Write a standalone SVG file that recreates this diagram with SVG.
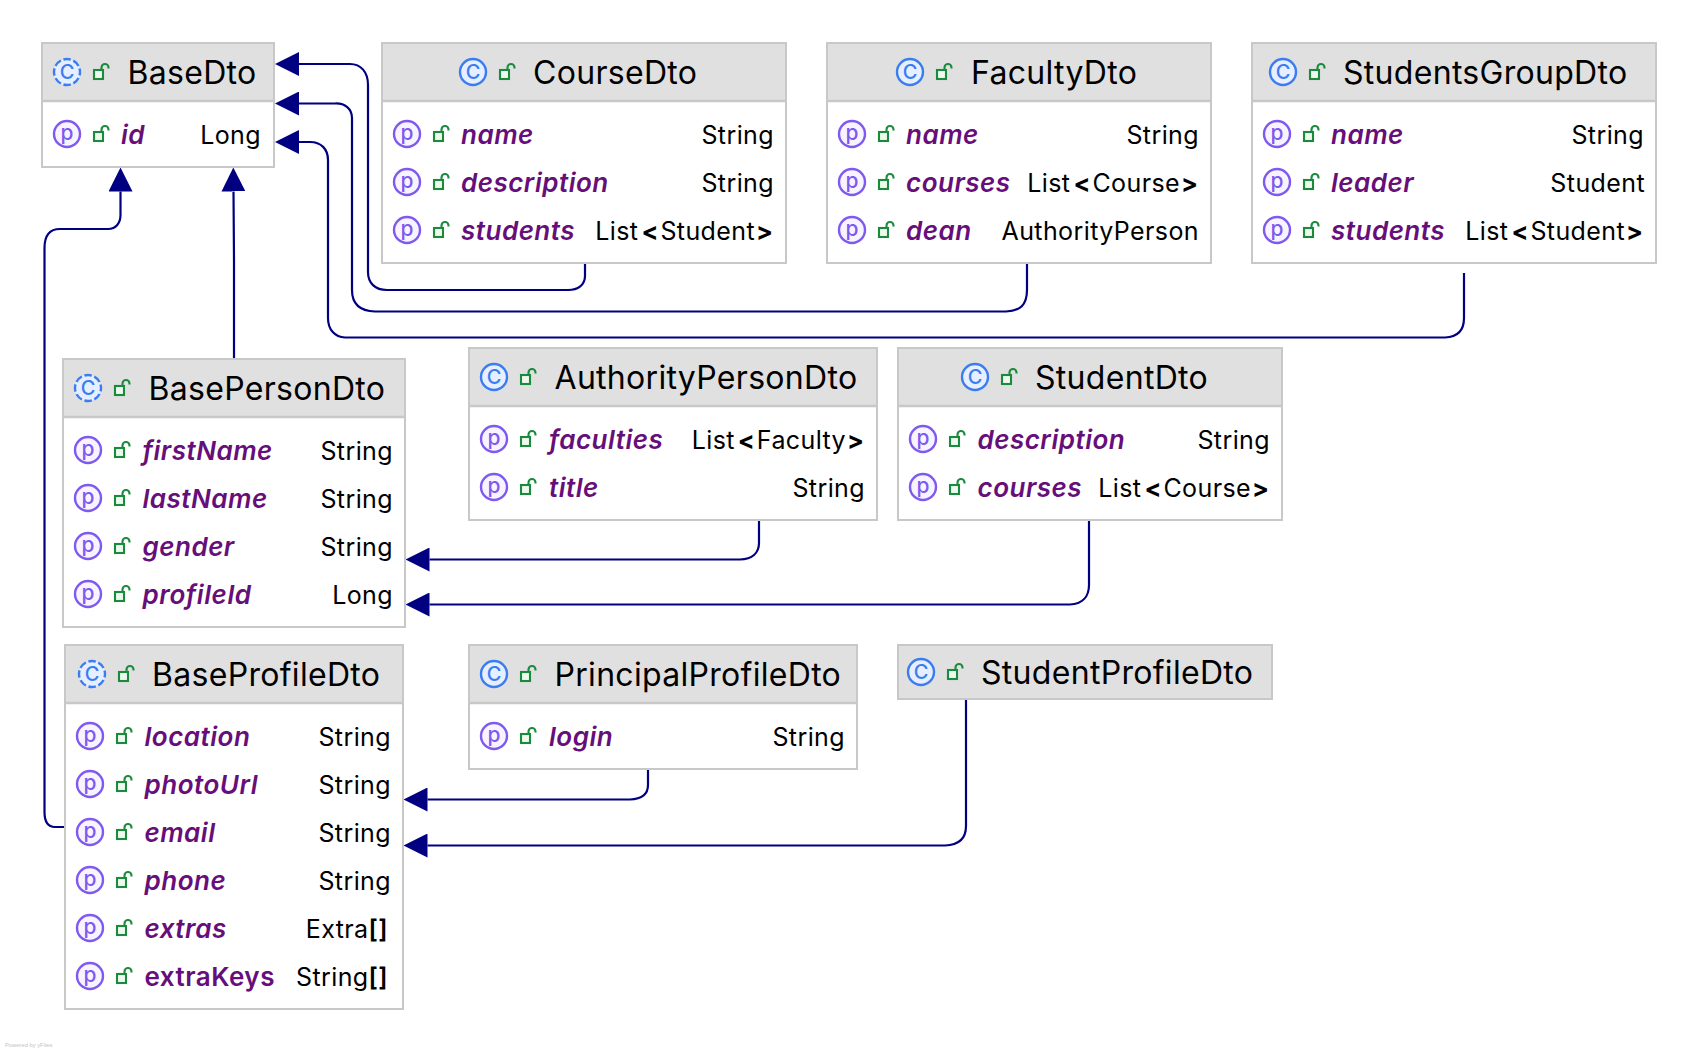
<svg xmlns="http://www.w3.org/2000/svg" width="1698" height="1052" viewBox="0 0 1698 1052">
<style>
text{font-family:Inter,"Noto Sans","Liberation Sans",sans-serif}
.box{fill:#fff;stroke:#c8c8c8;stroke-width:2}
.hdr{fill:#e0e0e0}
.sep{stroke:#c8c8c8;stroke-width:2.5;fill:none}
.title{font-size:32px;fill:#000;letter-spacing:.3px}
.name{font-size:26px;font-style:italic;font-weight:600;fill:#660e7a;letter-spacing:.5px}
.type{font-size:25px;fill:#000;text-anchor:end;letter-spacing:.4px}
.b{font-weight:700;letter-spacing:2px}
.br{font-weight:600}
.ci{font-size:20px;fill:#3b7df0;text-anchor:middle;font-weight:500}
.pi{font-size:21px;fill:#7f5af0;text-anchor:middle;font-weight:500}
.edge{fill:none;stroke:#000080;stroke-width:2.2;stroke-linejoin:round}
.foot{font-size:5.8px;fill:#c4c4c4;font-family:"Liberation Sans",sans-serif}
</style>
<defs>
<marker id="arr" markerUnits="userSpaceOnUse" viewBox="0 0 24 24" markerWidth="24" markerHeight="24" refX="0" refY="12" orient="auto"><path d="M0 0L24 12L0 24Z" fill="#000080"/></marker>
<g id="lock" fill="none" stroke="#1a8a3c" stroke-width="2.100"><rect x="-7" y="-2" width="9" height="9" fill="#eef8ee"/><path d="M0.500-2V-4.500a3.500 3.500 0 0 1 7 0V-3.500"/></g>
<circle id="cc" r="13" fill="#e6efff" stroke="#3b7df0" stroke-width="2.400"/>
<circle id="ca" r="13" fill="#e6efff" stroke="#3b7df0" stroke-width="2.400" stroke-dasharray="7.500 2.700" stroke-dashoffset="4"/>
<circle id="pc" r="13" fill="#f8f4ff" stroke="#7f5af0" stroke-width="2.400"/>
</defs>
<rect width="1698" height="1052" fill="#fff"/>
<g id="connectors">
<path class="edge" marker-end="url(#arr)" d="M585 263V276C585 285 578 290 568 290H387C375 290 368 283 368 272V85C368 72 361 64 350 64H299"/>
<path class="edge" marker-end="url(#arr)" d="M1027 263V290C1027 305 1020 311 1006 311.500H375C360 311 352 304 352 290V118C352 109 345 103 335 103.500H299"/>
<path class="edge" marker-end="url(#arr)" d="M1464 273V318C1464 331 1457 337 1445 337.500H345C335 337 328 330 328 318V160C328 149 321 142 310 142H299"/>
<path class="edge" marker-end="url(#arr)" d="M64 827H55C48 827 44.500 822 44.500 812V248C44.500 236 49 229 60 229H108C116 229 120.500 223 120.500 215V191.500"/>
<path class="edge" marker-end="url(#arr)" d="M234 359V260L233.500 191.500"/>
<path class="edge" marker-end="url(#arr)" d="M759 521V543C759 553 752 559 740 559.500H429.500"/>
<path class="edge" marker-end="url(#arr)" d="M1089 521V585C1089 597 1082 604 1070 604.500H429.500"/>
<path class="edge" marker-end="url(#arr)" d="M648 770V785C648 794 642 799 630 799.500H427.500"/>
<path class="edge" marker-end="url(#arr)" d="M966 700V826C966 838 960 845 945 845.500H427.500"/>
</g>
<g id="BaseDto">
<rect class="box" x="42" y="43" width="232" height="124"/><rect class="hdr" x="43" y="44" width="230" height="57"/><path class="sep" d="M43 101H273"/>
<use href="#ca" x="67" y="72"/><text class="ci" x="67" y="79">C</text><use href="#lock" x="101" y="72"/><text class="title" x="127.500" y="84">BaseDto</text>
<use href="#pc" x="67" y="134"/><text class="pi" x="67" y="140">p</text><use href="#lock" x="101" y="134"/><text class="name" x="121" y="144">id</text><text class="type" x="261" y="144">Long</text>
</g>
<g id="CourseDto">
<rect class="box" x="382" y="43" width="404" height="220"/><rect class="hdr" x="383" y="44" width="402" height="57"/><path class="sep" d="M383 101H785"/>
<use href="#cc" x="473" y="72"/><text class="ci" x="473" y="79">C</text><use href="#lock" x="507" y="72"/><text class="title" x="533" y="84">CourseDto</text>
<use href="#pc" x="407" y="134"/><text class="pi" x="407" y="140">p</text><use href="#lock" x="441" y="134"/><text class="name" x="461" y="144">name</text><text class="type" x="774" y="144">String</text>
<use href="#pc" x="407" y="182"/><text class="pi" x="407" y="188">p</text><use href="#lock" x="441" y="182"/><text class="name" x="461" y="192">description</text><text class="type" x="774" y="192">String</text>
<use href="#pc" x="407" y="230"/><text class="pi" x="407" y="236">p</text><use href="#lock" x="441" y="230"/><text class="name" x="461" y="240">students</text><text class="type" x="775" y="240">List<tspan class="b" dx="3">&lt;</tspan>Student<tspan class="b" dx="1">&gt;</tspan></text>
</g>
<g id="FacultyDto">
<rect class="box" x="827" y="43" width="384" height="220"/><rect class="hdr" x="828" y="44" width="382" height="57"/><path class="sep" d="M828 101H1210"/>
<use href="#cc" x="910" y="72"/><text class="ci" x="910" y="79">C</text><use href="#lock" x="944" y="72"/><text class="title" x="971" y="84">FacultyDto</text>
<use href="#pc" x="852" y="134"/><text class="pi" x="852" y="140">p</text><use href="#lock" x="886" y="134"/><text class="name" x="906" y="144">name</text><text class="type" x="1199" y="144">String</text>
<use href="#pc" x="852" y="182"/><text class="pi" x="852" y="188">p</text><use href="#lock" x="886" y="182"/><text class="name" x="906" y="192">courses</text><text class="type" x="1200" y="192">List<tspan class="b" dx="3">&lt;</tspan>Course<tspan class="b" dx="1">&gt;</tspan></text>
<use href="#pc" x="852" y="230"/><text class="pi" x="852" y="236">p</text><use href="#lock" x="886" y="230"/><text class="name" x="906" y="240">dean</text><text class="type" x="1199" y="240">AuthorityPerson</text>
</g>
<g id="StudentsGroupDto">
<rect class="box" x="1252" y="43" width="404" height="220"/><rect class="hdr" x="1253" y="44" width="402" height="57"/><path class="sep" d="M1253 101H1655"/>
<use href="#cc" x="1283" y="72"/><text class="ci" x="1283" y="79">C</text><use href="#lock" x="1317" y="72"/><text class="title" x="1343" y="84">StudentsGroupDto</text>
<use href="#pc" x="1277" y="134"/><text class="pi" x="1277" y="140">p</text><use href="#lock" x="1311" y="134"/><text class="name" x="1331" y="144">name</text><text class="type" x="1644" y="144">String</text>
<use href="#pc" x="1277" y="182"/><text class="pi" x="1277" y="188">p</text><use href="#lock" x="1311" y="182"/><text class="name" x="1331" y="192">leader</text><text class="type" x="1645" y="192">Student</text>
<use href="#pc" x="1277" y="230"/><text class="pi" x="1277" y="236">p</text><use href="#lock" x="1311" y="230"/><text class="name" x="1331" y="240">students</text><text class="type" x="1645" y="240">List<tspan class="b" dx="3">&lt;</tspan>Student<tspan class="b" dx="1">&gt;</tspan></text>
</g>
<g id="BasePersonDto">
<rect class="box" x="63" y="359" width="342" height="268"/><rect class="hdr" x="64" y="360" width="340" height="57"/><path class="sep" d="M64 417H404"/>
<use href="#ca" x="88" y="388"/><text class="ci" x="88" y="395">C</text><use href="#lock" x="122" y="388"/><text class="title" x="148.500" y="400">BasePersonDto</text>
<use href="#pc" x="88" y="450"/><text class="pi" x="88" y="456">p</text><use href="#lock" x="122" y="450"/><text class="name" x="142.500" y="460">firstName</text><text class="type" x="393" y="460">String</text>
<use href="#pc" x="88" y="498"/><text class="pi" x="88" y="504">p</text><use href="#lock" x="122" y="498"/><text class="name" x="142.500" y="508">lastName</text><text class="type" x="393" y="508">String</text>
<use href="#pc" x="88" y="546"/><text class="pi" x="88" y="552">p</text><use href="#lock" x="122" y="546"/><text class="name" x="142.500" y="556">gender</text><text class="type" x="393" y="556">String</text>
<use href="#pc" x="88" y="594"/><text class="pi" x="88" y="600">p</text><use href="#lock" x="122" y="594"/><text class="name" x="142.500" y="604">profileId</text><text class="type" x="393" y="604">Long</text>
</g>
<g id="AuthorityPersonDto">
<rect class="box" x="469" y="348" width="408" height="172"/><rect class="hdr" x="470" y="349" width="406" height="57"/><path class="sep" d="M470 406H876"/>
<use href="#cc" x="494" y="377"/><text class="ci" x="494" y="384">C</text><use href="#lock" x="528" y="377"/><text class="title" x="554.500" y="389">AuthorityPersonDto</text>
<use href="#pc" x="494" y="439"/><text class="pi" x="494" y="445">p</text><use href="#lock" x="528" y="439"/><text class="name" x="549" y="449">faculties</text><text class="type" x="866" y="449">List<tspan class="b" dx="3">&lt;</tspan>Faculty<tspan class="b" dx="1">&gt;</tspan></text>
<use href="#pc" x="494" y="487"/><text class="pi" x="494" y="493">p</text><use href="#lock" x="528" y="487"/><text class="name" x="549" y="497">title</text><text class="type" x="865" y="497">String</text>
</g>
<g id="StudentDto">
<rect class="box" x="898" y="348" width="384" height="172"/><rect class="hdr" x="899" y="349" width="382" height="57"/><path class="sep" d="M899 406H1281"/>
<use href="#cc" x="975" y="377"/><text class="ci" x="975" y="384">C</text><use href="#lock" x="1009" y="377"/><text class="title" x="1035" y="389">StudentDto</text>
<use href="#pc" x="923" y="439"/><text class="pi" x="923" y="445">p</text><use href="#lock" x="957" y="439"/><text class="name" x="977.500" y="449">description</text><text class="type" x="1270" y="449">String</text>
<use href="#pc" x="923" y="487"/><text class="pi" x="923" y="493">p</text><use href="#lock" x="957" y="487"/><text class="name" x="977.500" y="497">courses</text><text class="type" x="1271" y="497">List<tspan class="b" dx="3">&lt;</tspan>Course<tspan class="b" dx="1">&gt;</tspan></text>
</g>
<g id="BaseProfileDto">
<rect class="box" x="65" y="645" width="338" height="364"/><rect class="hdr" x="66" y="646" width="336" height="57"/><path class="sep" d="M66 703H402"/>
<use href="#ca" x="92" y="674"/><text class="ci" x="92" y="681">C</text><use href="#lock" x="126" y="674"/><text class="title" x="152" y="686">BaseProfileDto</text>
<use href="#pc" x="90" y="736"/><text class="pi" x="90" y="742">p</text><use href="#lock" x="124" y="736"/><text class="name" x="144.500" y="746">location</text><text class="type" x="391" y="746">String</text>
<use href="#pc" x="90" y="784"/><text class="pi" x="90" y="790">p</text><use href="#lock" x="124" y="784"/><text class="name" x="144.500" y="794">photoUrl</text><text class="type" x="391" y="794">String</text>
<use href="#pc" x="90" y="832"/><text class="pi" x="90" y="838">p</text><use href="#lock" x="124" y="832"/><text class="name" x="144.500" y="842">email</text><text class="type" x="391" y="842">String</text>
<use href="#pc" x="90" y="880"/><text class="pi" x="90" y="886">p</text><use href="#lock" x="124" y="880"/><text class="name" x="144.500" y="890">phone</text><text class="type" x="391" y="890">String</text>
<use href="#pc" x="90" y="928"/><text class="pi" x="90" y="934">p</text><use href="#lock" x="124" y="928"/><text class="name" x="144.500" y="938">extras</text><text class="type" x="388" y="938">Extra<tspan class="br">[]</tspan></text>
<use href="#pc" x="90" y="976"/><text class="pi" x="90" y="982">p</text><use href="#lock" x="124" y="976"/><text class="name" x="144.500" y="986" style="font-style:normal">extraKeys</text><text class="type" x="388" y="986">String<tspan class="br">[]</tspan></text>
</g>
<g id="PrincipalProfileDto">
<rect class="box" x="469" y="645" width="388" height="124"/><rect class="hdr" x="470" y="646" width="386" height="57"/><path class="sep" d="M470 703H856"/>
<use href="#cc" x="494" y="674"/><text class="ci" x="494" y="681">C</text><use href="#lock" x="528" y="674"/><text class="title" x="554.500" y="686">PrincipalProfileDto</text>
<use href="#pc" x="494" y="736"/><text class="pi" x="494" y="742">p</text><use href="#lock" x="528" y="736"/><text class="name" x="549" y="746">login</text><text class="type" x="845" y="746">String</text>
</g>
<g id="StudentProfileDto">
<rect class="box" x="898" y="645" width="374" height="54" style="fill:#e0e0e0"/>
<use href="#cc" x="921" y="672"/><text class="ci" x="921" y="679">C</text><use href="#lock" x="955" y="672"/><text class="title" x="981" y="684">StudentProfileDto</text>
</g>
<text class="foot" x="5" y="1047">Powered by yFiles</text>
</svg>
